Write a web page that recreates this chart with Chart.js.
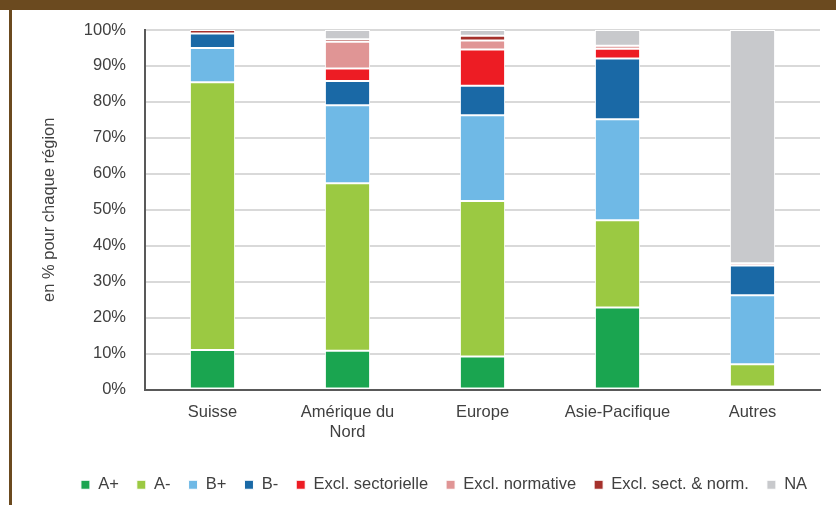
<!DOCTYPE html>
<html>
<head>
<meta charset="utf-8">
<script src="https://cdn.jsdelivr.net/npm/chart.js@4"></script>
<style>
  body { margin: 0; background: #fff; overflow: hidden; }
  #wrap { position: relative; width: 836px; height: 505px; }
  #chart { position: absolute; left: 0; top: 0; }
  .frame-top { position: absolute; left: 0; top: 0; width: 836px; height: 10px; background: #6b4a1f; }
  .frame-left { position: absolute; left: 9px; top: 0; width: 3px; height: 505px; background: #6b4a1f; }
</style>
</head>
<body>
<div id="wrap">
  <canvas id="chart" width="836" height="505"></canvas>
  <div class="frame-top"></div>
  <div class="frame-left"></div>
</div>
<script>
  const regions = ['Suisse', ['Amérique du', 'Nord'], 'Europe', 'Asie-Pacifique', 'Autres'];

  const aPlus = [11, 10.8, 9.2, 22.8, 0.8];
  const aMinus = [74.5, 46.6, 43.2, 24.3, 6.2];
  const bPlus = [9.5, 21.7, 23.9, 28.1, 19.2];
  const bMinus = [4.0, 6.7, 8.2, 16.9, 8.3];
  const exclSect = [0, 3.5, 10.1, 2.7, 0];
  const exclNorm = [0, 7.4, 2.5, 0.8, 0.6];
  const exclBoth = [1.0, 0.7, 1.3, 0, 0];
  const na = [0, 2.6, 1.6, 4.4, 64.9];

  const yTicks = [0, 10, 20, 30, 40, 50, 60, 70, 80, 90, 100];

  const font = { family: 'Liberation Sans', size: 16.5 };
  const textColor = '#404040';

  function serie(label, data, color) {
    return {
      label: label,
      data: data,
      backgroundColor: color,
      borderColor: '#ffffff',
      borderWidth: 1,
      borderSkipped: false,
      categoryPercentage: 1,
      barPercentage: 0.335
    };
  }

  const ctx = document.getElementById('chart').getContext('2d');
  new Chart(ctx, {
    type: 'bar',
    data: {
      labels: regions,
      datasets: [
        serie('A+', aPlus, '#1aa550'),
        serie('A-', aMinus, '#9bc942'),
        serie('B+', bPlus, '#6fb9e6'),
        serie('B-', bMinus, '#1a69a6'),
        serie('Excl. sectorielle', exclSect, '#ed1c24'),
        serie('Excl. normative', exclNorm, '#e09595'),
        serie('Excl. sect. & norm.', exclBoth, '#a5312c'),
        serie('NA', na, '#c8c9cc')
      ]
    },
    options: {
      responsive: false,
      animation: false,
      layout: { padding: { left: 52, right: 0, top: 30, bottom: 2 } },
      plugins: {
        tooltip: { enabled: false },
        legend: {
          position: 'bottom',
          labels: {
            boxWidth: 9,
            boxHeight: 9,
            padding: 18,
            color: textColor,
            font: font
          }
        }
      },
      scales: {
        x: {
          stacked: true,
          grid: { display: false },
          border: { color: '#595959', width: 2 },
          ticks: { color: textColor, font: font, padding: 5, maxRotation: 0 },
          afterFit: function(scale) { scale.height = 69; }
        },
        y: {
          stacked: true,
          min: 0,
          max: 100,
          afterBuildTicks: function(scale) {
            scale.ticks = yTicks.map(function(v) { return { value: v }; });
          },
          grid: { color: '#d9d9d9', lineWidth: 2, drawTicks: false },
          border: { color: '#595959', width: 2 },
          ticks: {
            color: textColor,
            font: font,
            padding: 19,
            callback: function(v) { return v + '%'; }
          },
          title: {
            display: true,
            text: 'en % pour chaque région',
            color: textColor,
            font: font,
            padding: { top: -12, bottom: 0 }
          },
          afterFit: function(scale) { scale.width = 93; }
        },
        // empty right margin so the legend can stay centred like the original
        spacer: {
          type: 'linear',
          position: 'right',
          grid: { display: false, drawTicks: false },
          border: { display: false },
          ticks: { display: false },
          afterFit: function(scale) { scale.width = 16; }
        }
      }
    }
  });
</script>
</body>
</html>
